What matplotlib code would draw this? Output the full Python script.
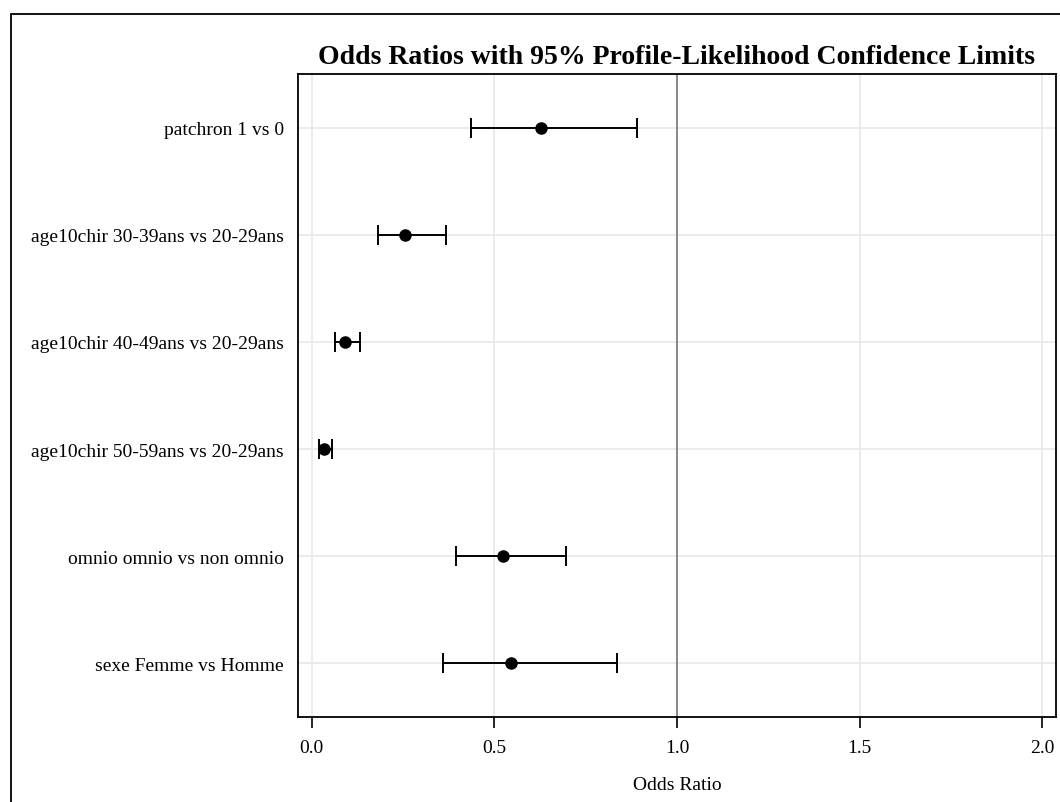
import matplotlib.pyplot as plt
from matplotlib.patches import Rectangle

# 효과별 오즈비와 95% 신뢰구간
labels = ['patchron 1 vs 0',
          'age10chir 30-39ans vs 20-29ans',
          'age10chir 40-49ans vs 20-29ans',
          'age10chir 50-59ans vs 20-29ans',
          'omnio omnio vs non omnio',
          'sexe Femme vs Homme']
odds = [0.627, 0.255, 0.092, 0.033, 0.523, 0.545]
lower = [0.435, 0.180, 0.063, 0.019, 0.395, 0.359]
upper = [0.890, 0.366, 0.133, 0.056, 0.696, 0.836]
xticks = [0.0, 0.5, 1.0, 1.5, 2.0]

plt.rcParams['font.family'] = ['Liberation Serif', 'DejaVu Serif']

fig = plt.figure(figsize=(10.6, 8.03), dpi=100)
ax = fig.add_axes([298 / 1060, 1 - 718 / 803, (1056 - 298) / 1060, (718 - 75) / 803])

# 바깥 테두리
fig.patches.append(Rectangle((11 / 1060, -0.1), 2, 1 - 15 / 803 + 0.1,
                             transform=fig.transFigure, fill=False,
                             edgecolor='black', linewidth=1.3, clip_on=False))

y = list(range(len(labels)))
xerr = [[o - l for o, l in zip(odds, lower)], [u - o for o, u in zip(odds, upper)]]

ax.axvline(1.0, color='#808080', linewidth=1.3, zorder=1)
ax.errorbar(odds, y, xerr=xerr, fmt='o', color='black', markersize=8,
            elinewidth=1.4, capsize=7, capthick=1.4, zorder=3)

ax.set_xlim(-0.038, 2.038)
ax.set_ylim(len(labels) - 0.5, -0.5)
ax.set_yticks(y)
ax.set_yticklabels(labels, fontsize=14)
ax.set_xticks(xticks)
ax.set_xticklabels([f'{t:.1f}' for t in xticks], fontsize=14)
ax.tick_params(axis='y', length=0, pad=10)
ax.tick_params(axis='x', length=8, width=1.2, pad=8)
ax.grid(True, color='#e8e8e8', linewidth=1.2, zorder=0)
ax.set_axisbelow(True)
for s in ax.spines.values():
    s.set_linewidth(1.3)

ax.set_xlabel('Odds Ratio', fontsize=14, labelpad=14)
ax.set_title('Odds Ratios with 95% Profile-Likelihood Confidence Limits',
             fontsize=20, fontweight='bold', pad=8)

fig.savefig('out.png', dpi=100)
